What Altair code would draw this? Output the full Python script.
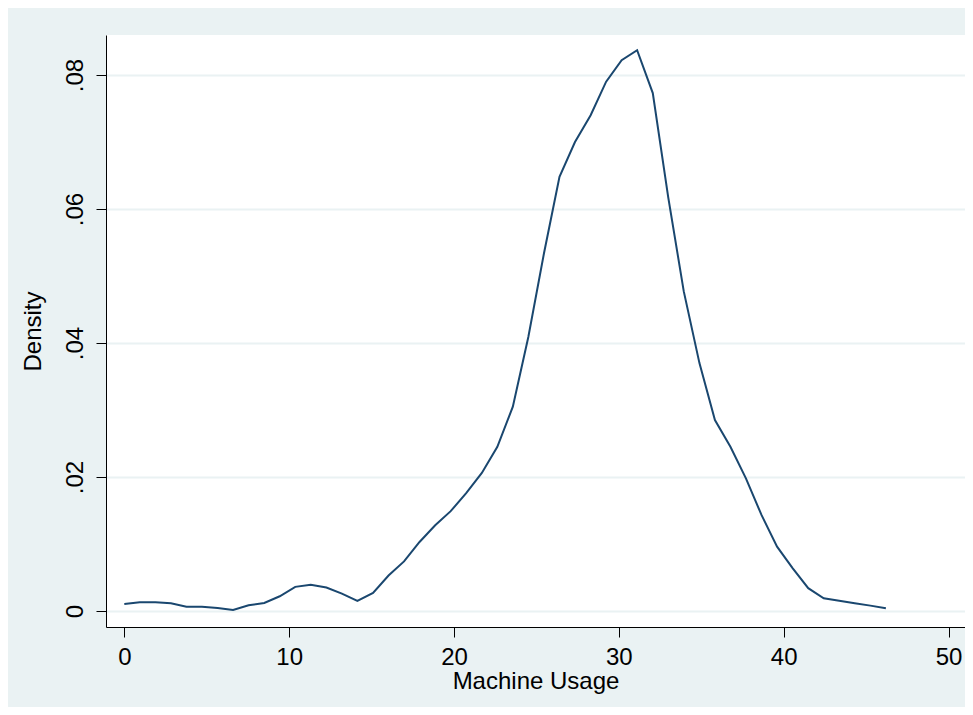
import altair as alt
import pandas as pd

# Kernel density of machine usage
usage = [0.00, 0.94, 1.89, 2.83, 3.77, 4.71, 5.66, 6.60, 7.54, 8.49,
         9.43, 10.37, 11.31, 12.26, 13.20, 14.14, 15.09, 16.03, 16.97, 17.91,
         18.86, 19.80, 20.74, 21.69, 22.63, 23.57, 24.51, 25.46, 26.40, 27.34,
         28.29, 29.23, 30.17, 31.11, 32.06, 33.00, 33.94, 34.89, 35.83, 36.77,
         37.71, 38.66, 39.60, 40.54, 41.49, 42.43, 43.37, 44.31, 45.26, 46.20]
density = [0.00104, 0.0013, 0.0013, 0.00115, 0.00064, 0.00064, 0.00045, 0.00015, 0.00085, 0.0012,
           0.0022, 0.0036, 0.0039, 0.0035, 0.0026, 0.0015, 0.0027, 0.0053, 0.0074, 0.0103,
           0.0128, 0.0149, 0.0176, 0.0206, 0.0245, 0.0305, 0.0409, 0.0534, 0.0648, 0.0700,
           0.0740, 0.0790, 0.0822, 0.0837, 0.0773, 0.0617, 0.0477, 0.0370, 0.0285, 0.0245,
           0.0198, 0.0143, 0.0096, 0.0064, 0.0034, 0.0019, 0.00154, 0.00115, 0.0008, 0.0004]

x_ticks = [0, 10, 20, 30, 40, 50]
y_ticks = [0, 0.02, 0.04, 0.06, 0.08]

df = pd.DataFrame({"usage": usage, "density": density})

FONT = "Liberation Sans"
BG = "#eaf2f3"

chart = alt.Chart(df).mark_line(color="#1a476f", strokeWidth=2).encode(
    x=alt.X("usage:Q",
            scale=alt.Scale(domain=[-1.11, 51.0], nice=False, zero=False),
            axis=alt.Axis(title="Machine Usage", values=x_ticks, grid=False,
                          tickSize=10, labelPadding=8, labelFontSize=24,
                          titleFontSize=24, titleFontWeight="normal",
                          titleBaseline="alphabetic", titleY=61,
                          labelFlush=False)),
    y=alt.Y("density:Q",
            scale=alt.Scale(domain=[-0.00239, 0.08597], nice=False, zero=False),
            axis=alt.Axis(title="Density", values=y_ticks, grid=True,
                          gridColor=BG, gridWidth=2,
                          tickSize=10, labelPadding=14, labelFontSize=24,
                          labelAngle=270, labelAlign="center",
                          labelBaseline="alphabetic",
                          labelExpr="datum.value == 0 ? '0' : replace(format(datum.value, '.2f'), '0.', '.')",
                          titleFontSize=24, titleFontWeight="normal",
                          titleAngle=270, titleAlign="center",
                          titleBaseline="alphabetic", titleX=-66, titleY=296,
                          labelFlush=False)),
).properties(
    width=859,
    height=592,
    background=BG,
    padding={"left": 98, "top": 27, "right": 0, "bottom": 80},
    autosize=alt.AutoSizeParams(type="none"),
).configure_view(
    fill="white", stroke=None
).configure_axis(
    labelFont=FONT, titleFont=FONT, labelColor="black", titleColor="black",
    domainColor="black", domainWidth=1, tickColor="black", tickWidth=1,
)

chart.save("out.html", embed_options={"renderer": "svg", "actions": False})
